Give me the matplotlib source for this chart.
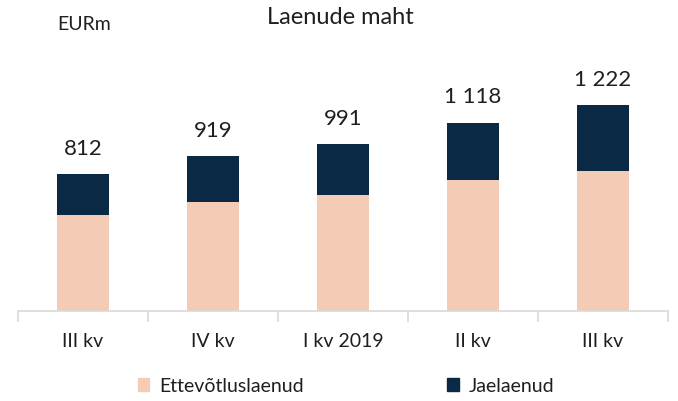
import matplotlib
matplotlib.use('Agg')
import matplotlib.pyplot as plt
from matplotlib.patches import Patch
import numpy as np

plt.rcParams['font.family'] = ['Lato', 'DejaVu Sans']

# andmed (EURm)
kvartalid = ['III kv', 'IV kv', 'I kv 2019', 'II kv', 'III kv']
ettevotlus = [568, 649, 690, 777, 833]
jae = [244, 270, 301, 341, 389]
kokku = [812, 919, 991, 1118, 1222]
kokku_sildid = ['812', '919', '991', '1 118', '1 222']

c_ette = '#F4CBB4'
c_jae = '#0A2945'
c_text = '#1F1F1F'

fig = plt.figure(figsize=(6.78, 4.01), dpi=100)
ax = fig.add_axes([18 / 678, 90 / 401, 650 / 678, 251 / 401])

x = np.arange(len(kvartalid))
ax.bar(x, ettevotlus, width=0.4, color=c_ette, zorder=2)
ax.bar(x, jae, width=0.4, bottom=ettevotlus, color=c_jae, zorder=2)

# summad tulpade kohal
for xi, v, s in zip(x, kokku, kokku_sildid):
    ax.annotate(s, (xi, v), xytext=(0, 11), textcoords='offset points',
                ha='center', va='bottom', fontsize=16, color=c_text)

ax.set_xlim(-0.5, len(kvartalid) - 0.5)
ax.set_ylim(0, 1490)
ax.set_yticks([])
for side in ['left', 'right', 'top']:
    ax.spines[side].set_visible(False)
ax.spines['bottom'].set_color('#D9D9D9')
ax.spines['bottom'].set_linewidth(1.2)

ax.set_xticks(x)
ax.set_xticklabels(kvartalid, fontsize=14, color=c_text)
ax.tick_params(axis='x', which='major', length=0, pad=16)
ax.set_xticks(np.arange(-0.5, len(kvartalid)), minor=True)
ax.tick_params(axis='x', which='minor', length=8, width=1.2, color='#D9D9D9')

fig.text(340 / 678, 1 - 18 / 401, 'Laenude maht', ha='center', va='center',
         fontsize=17, color=c_text)
fig.text(57 / 678, 1 - 24 / 401, 'EURm', ha='left', va='center',
         fontsize=14, color=c_text)

handles = [Patch(color=c_ette), Patch(color=c_jae)]
fig.legend(handles, ['Ettevõtluslaenud', 'Jaelaenud'], loc='center',
           bbox_to_anchor=(346 / 678, 1 - 386 / 401), ncol=2, frameon=False,
           fontsize=14, handlelength=0.6, handleheight=0.6, handletextpad=0.5,
           columnspacing=7.4, labelcolor=c_text)

plt.savefig('out.png', dpi=100)
